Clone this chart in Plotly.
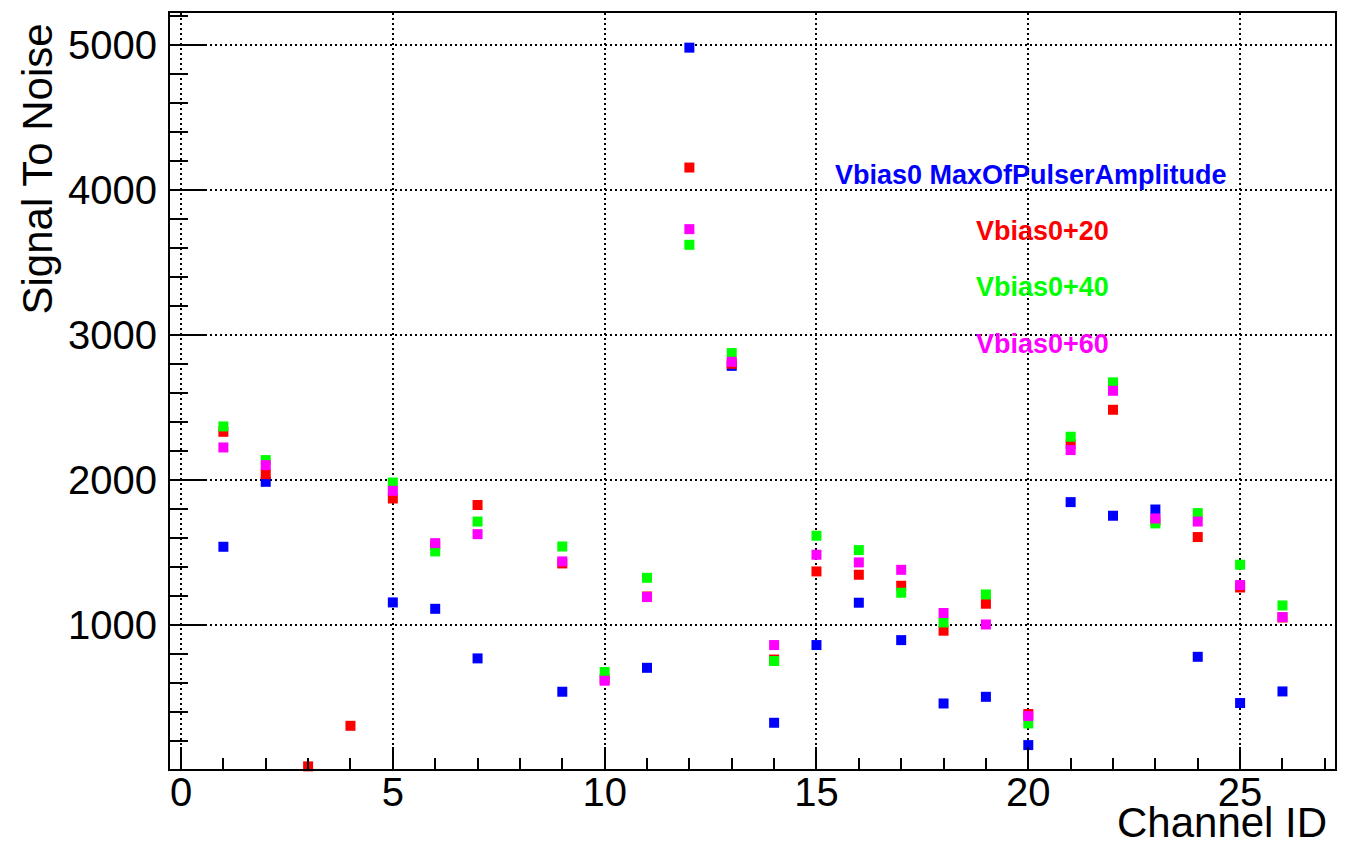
import plotly.graph_objects as go

channels = list(range(1, 27))
series_names = ["Vbias0 MaxOfPulserAmplitude", "Vbias0+20", "Vbias0+40", "Vbias0+60"]
series_colors = ["#0000ff", "#ff0000", "#00ff00", "#ff00ff"]

N = None
vbias0 = [1538, 1986, N, N, 1154, 1110, 768, N, 538, N, 703, 4981, 2786,
          324, 860, 1152, 894, 457, 503, 170, 1846, 1752, 1795, 779, 460, 540]
vbias20 = [2331, 2039, 23, 303, 1871, 1550, 1826, N, 1423, 625, 1195, 4154, 2800,
           760, 1368, 1345, 1269, 959, 1145, 384, 2246, 2483, 1720, 1605, 1257, 1050]
vbias40 = [2368, 2136, N, N, 1981, 1506, 1712, N, 1540, 674, 1324, 3621, 2874,
           750, 1614, 1515, 1221, 1016, 1209, 319, 2297, 2672, 1699, 1770, 1414, 1133]
vbias60 = [2223, 2101, N, N, 1924, 1563, 1625, N, 1437, 614, 1191, 3729, 2814,
           860, 1483, 1430, 1379, 1081, 1002, 370, 2205, 2614, 1733, 1712, 1274, 1053]
series_values = [vbias0, vbias20, vbias40, vbias60]

x_ticks = [0, 5, 10, 15, 20, 25]
y_ticks = [1000, 2000, 3000, 4000, 5000]

FONT = "Liberation Sans, Arial, Helvetica, sans-serif"

fig = go.Figure()
for name, color, vals in zip(series_names, series_colors, series_values):
    fig.add_trace(go.Scatter(
        x=channels, y=vals, mode="markers", name=name,
        marker=dict(symbol="square", size=10, color=color, line=dict(width=0)),
        cliponaxis=False,
    ))

L, R, T, B = 170, 15, 11, 77
W, H = 1350, 846
pw, ph = W - L - R, H - T - B

def px_x(px):
    return (px - L) / pw

def px_y(py):
    return (H - B - py) / ph

fig.update_layout(
    width=W, height=H,
    margin=dict(l=L, r=R, t=T, b=B, pad=0),
    paper_bgcolor="white", plot_bgcolor="white",
    showlegend=False,
    font=dict(family=FONT, size=40, color="black"),
)
fig.update_xaxes(
    range=[-0.26, 27.24], tickvals=x_ticks, ticktext=[str(v) for v in x_ticks],
    ticks="inside", ticklen=22, tickwidth=1.5, tickcolor="black",
    minor=dict(dtick=1, tick0=0, ticks="inside", ticklen=11, tickwidth=1.5, tickcolor="black", showgrid=False),
    showline=True, linecolor="black", linewidth=2, mirror=True,
    showgrid=True, gridcolor="black", gridwidth=1.5, griddash="2px,3px",
    zeroline=False, tickfont=dict(size=40), ticklabelstandoff=-13,
)
fig.update_yaxes(
    range=[5, 5220], tickvals=y_ticks, ticktext=[str(v) for v in y_ticks],
    ticks="inside", ticklen=35, tickwidth=1.5, tickcolor="black",
    minor=dict(dtick=200, tick0=0, ticks="inside", ticklen=18, tickwidth=1.5, tickcolor="black", showgrid=False),
    showline=True, linecolor="black", linewidth=2, mirror=True,
    showgrid=True, gridcolor="black", gridwidth=1.5, griddash="2px,3px",
    zeroline=False, tickfont=dict(size=40), ticklabelstandoff=3,
)

# legend box (white, no border)
fig.add_shape(type="rect", xref="paper", yref="paper",
              x0=px_x(813), x1=px_x(1290), y0=px_y(372), y1=px_y(148),
              fillcolor="white", line=dict(width=0), layer="between")

leg_x = [1030.5, 1042.5, 1042.5, 1042.5]
leg_y = [173, 229.5, 286, 342.5]
for name, color, lx, ly in zip(series_names, series_colors, leg_x, leg_y):
    fig.add_annotation(xref="paper", yref="paper", x=px_x(lx), y=px_y(ly),
                       xanchor="center", yanchor="middle", showarrow=False,
                       text="<b>%s</b>" % name,
                       font=dict(family=FONT, size=27, color=color))

# axis titles
fig.add_annotation(xref="paper", yref="paper", x=px_x(1329), y=px_y(823),
                   xanchor="right", yanchor="middle", showarrow=False,
                   text="Channel ID", font=dict(family=FONT, size=42, color="black"))
fig.add_annotation(xref="paper", yref="paper", x=px_x(37), y=px_y(20),
                   xanchor="center", yanchor="top", showarrow=False, textangle=-90,
                   text="Signal To Noise", font=dict(family=FONT, size=42, color="black"))

fig.write_html("out.html")
